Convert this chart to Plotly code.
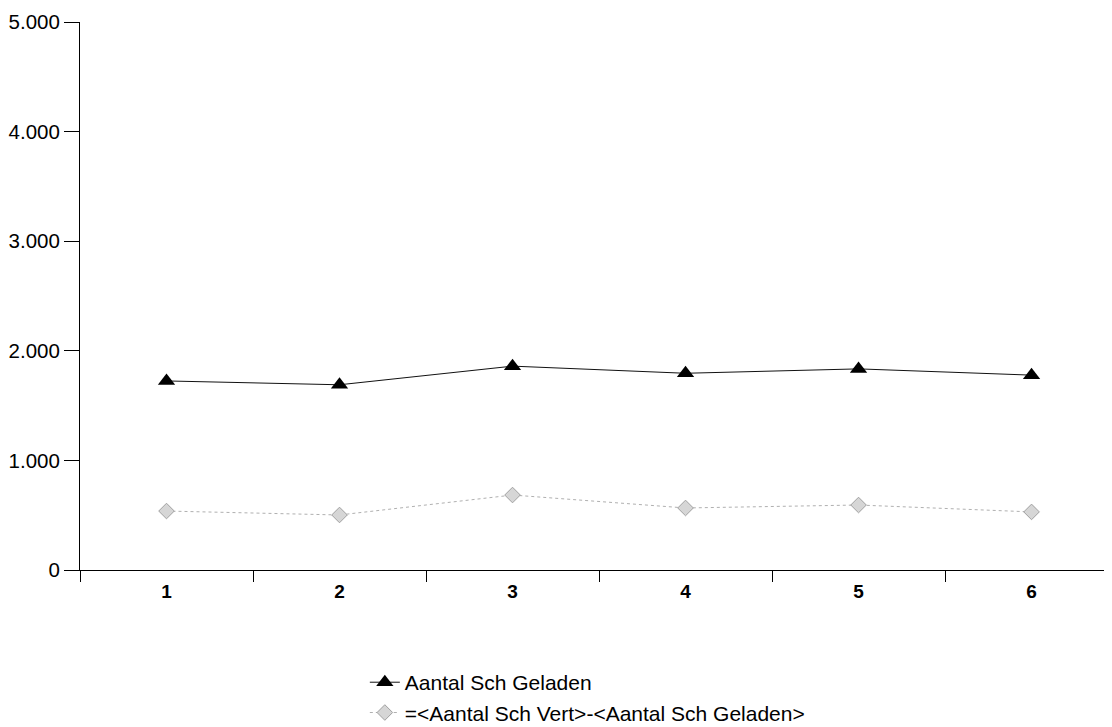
import plotly.graph_objects as go

categories = [1, 2, 3, 4, 5, 6]
geladen = [1725, 1690, 1860, 1795, 1835, 1778]
verschil = [538, 502, 684, 566, 593, 530]
y_ticks = [0, 1000, 2000, 3000, 4000, 5000]

font_family = "Liberation Sans, Arial, sans-serif"

fig = go.Figure()
fig.add_trace(go.Scatter(
    x=categories, y=geladen, mode="lines+markers",
    name="Aantal Sch Geladen", legendgroup="a",
    line=dict(color="#111111", width=1),
    marker=dict(symbol="triangle-up", size=15, color="#000000"),
))
fig.add_trace(go.Scatter(
    x=categories, y=verschil, mode="lines+markers",
    name="=<Aantal Sch Vert>-<Aantal Sch Geladen>", legendgroup="b",
    line=dict(color="#b0b0b0", width=1, dash="dot"),
    marker=dict(symbol="diamond", size=12, color="#d6d6d6",
                line=dict(color="#a0a0a0", width=1)),
))

fig.update_layout(
    width=1104, height=719,
    margin=dict(l=72, r=0, t=14, b=157, autoexpand=False),
    paper_bgcolor="white", plot_bgcolor="white",
    separators=",.",
    font=dict(family=font_family, color="#000000", size=20),
    showlegend=True,
    legend=dict(
        x=0.276, y=-0.168, xanchor="left", yanchor="top",
        bgcolor="rgba(0,0,0,0)", font=dict(size=21),
        tracegroupgap=0, itemwidth=30,
    ),
)
fig.update_xaxes(
    type="category", range=[-0.5, 5.465], automargin=False,
    showgrid=False, zeroline=False,
    showline=True, linecolor="#000000", linewidth=1,
    ticks="outside", tickson="boundaries", ticklen=11, tickcolor="#000000",
    tickfont=dict(family="Liberation Sans, Arial", size=19, color="#000000", weight="bold"),
    ticklabelstandoff=4,
)
fig.update_yaxes(
    range=[0, 5000], tickvals=y_ticks, tickformat=",d", automargin=False,
    showgrid=False, zeroline=False,
    showline=True, linecolor="#000000", linewidth=1,
    ticks="outside", ticklen=15, tickcolor="#000000",
    tickfont=dict(size=20.5),
)

fig.write_html("out.html")
